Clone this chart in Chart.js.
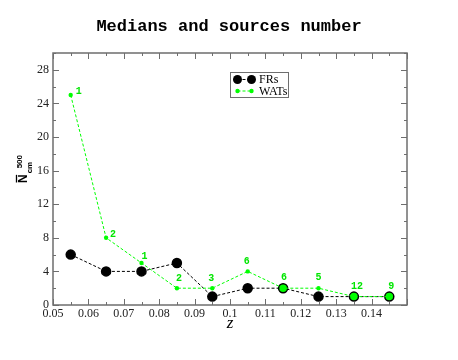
<!DOCTYPE html>
<html><head><meta charset="utf-8">
<script src="https://cdn.jsdelivr.net/npm/chart.js@4/dist/chart.umd.min.js"></script>
<style>html,body{margin:0;padding:0;background:#fff;}#wrap{width:458px;height:360px;position:relative;}</style>
</head><body><div id="wrap"><canvas id="c"></canvas></div>
<script>
// ---- data ----
const redshifts   = [0.055, 0.065, 0.075, 0.085, 0.095, 0.105, 0.115, 0.125, 0.135, 0.145];
const frMedians   = [6, 4, 4, 5, 1, 2, 2, 1, 1, 1];
const watMedians  = [25, 8, 5, 2, 2, 4, 2, 2, 1, 1];
const watCounts   = [1, 2, 1, 2, 3, 6, 6, 5, 12, 9];
const xTickValues = [0.05, 0.06, 0.07, 0.08, 0.09, 0.10, 0.11, 0.12, 0.13, 0.14, 0.15];
const xTickLabels = ['0.05','0.06','0.07','0.08','0.09','0.1','0.11','0.12','0.13','0.14',''];
const yTickValues = [0, 4, 8, 12, 16, 20, 24, 28];
const yTickLabels = ['0','4','8','12','16','20','24','28'];
const seriesNames = ['FRs', 'WATs'];

const GREEN = '#00ff00';
const GREEN_TXT = '#00e600';
const FRAME = '#6e6e6e';

const frData  = redshifts.map((z, i) => ({x: z, y: frMedians[i]}));
const watData = redshifts.map((z, i) => ({x: z, y: watMedians[i]}));
const frFill  = frMedians.map((v, i) => v === watMedians[i] ? GREEN : '#000');

// frame and inward ticks on all four sides
const framePlugin = {
  id: 'frame',
  beforeDatasetsDraw(chart) {
    const {ctx, chartArea: a, scales: {x, y}} = chart;
    ctx.save();
    ctx.strokeStyle = FRAME;
    ctx.lineWidth = 1.5;
    ctx.strokeRect(a.left, a.top, a.right - a.left, a.bottom - a.top);
    ctx.lineWidth = 1;
    const tick = (x1, y1, x2, y2) => { ctx.beginPath(); ctx.moveTo(x1, y1); ctx.lineTo(x2, y2); ctx.stroke(); };
    for (let v = 0.05; v <= 0.1501; v += 0.005) {
      const major = Math.abs(Math.round(v * 1000) % 10) === 0;
      const L = major ? 6 : 3;
      const px = Math.round(x.getPixelForValue(v)) + 0.5;
      tick(px, a.bottom, px, a.bottom - L);
      tick(px, a.top, px, a.top + L);
    }
    for (let v = 0; v <= 30; v += 2) {
      const L = (v % 4 === 0) ? 6 : 3;
      const py = Math.round(y.getPixelForValue(v)) + 0.5;
      tick(a.left, py, a.left + L, py);
      tick(a.right, py, a.right - L, py);
    }
    ctx.restore();
  }
};

// count labels above the WAT points
const countPlugin = {
  id: 'counts',
  afterDatasetsDraw(chart, args, opts) {
    const {ctx} = chart;
    const meta = chart.getDatasetMeta(1);
    ctx.save();
    ctx.fillStyle = GREEN_TXT;
    ctx.font = 'bold 10px "Liberation Mono", monospace';
    ctx.textAlign = 'center';
    ctx.textBaseline = 'middle';
    meta.data.forEach((pt, i) => {
      const o = opts.offsets[i];
      ctx.fillText(String(watCounts[i]), pt.x + o[0], pt.y + o[1]);
    });
    ctx.restore();
  }
};

// boxed legend inside the plot
const legendPlugin = {
  id: 'boxLegend',
  afterDatasetsDraw(chart, args, opts) {
    const {ctx} = chart;
    const b = opts.box;
    ctx.save();
    ctx.fillStyle = '#fff';
    ctx.fillRect(b.x, b.y, b.w, b.h);
    ctx.strokeStyle = FRAME;
    ctx.lineWidth = 1;
    ctx.strokeRect(b.x + 0.5, b.y + 0.5, b.w, b.h);
    chart.data.datasets.forEach((ds, i) => {
      const yy = b.y + 7.5 + i * 11.5;
      const x1 = b.x + 7.5, x2 = b.x + 21.5;
      ctx.strokeStyle = ds.borderColor;
      ctx.lineWidth = 1;
      ctx.setLineDash(ds.borderDash);
      ctx.beginPath(); ctx.moveTo(x1, yy); ctx.lineTo(x2, yy); ctx.stroke();
      ctx.setLineDash([]);
      [x1, x2].forEach(px => {
        ctx.beginPath();
        ctx.arc(px, yy, ds.pointRadius, 0, Math.PI * 2);
        ctx.fillStyle = i === 0 ? '#000' : ds.pointBackgroundColor;
        ctx.fill();
      });
      ctx.fillStyle = '#000';
      ctx.font = '12px "Liberation Serif", serif';
      ctx.textAlign = 'left';
      ctx.textBaseline = 'middle';
      ctx.fillText(ds.label, b.x + 29, yy + 0.5);
    });
    ctx.restore();
  }
};

// y axis label: N with overbar, superscript 500, subscript cm
const yLabelPlugin = {
  id: 'yLabel',
  afterDraw(chart) {
    const {ctx} = chart;
    ctx.save();
    ctx.translate(27, 183);
    ctx.rotate(-Math.PI / 2);
    ctx.fillStyle = '#000';
    ctx.textBaseline = 'alphabetic';
    ctx.textAlign = 'left';
    ctx.font = 'bold 12px "Liberation Sans", Arial, sans-serif';
    ctx.fillText('N', 0, 0);
    const w = ctx.measureText('N').width;
    ctx.strokeStyle = '#000';
    ctx.lineWidth = 1.3;
    ctx.beginPath(); ctx.moveTo(0.5, -10.5); ctx.lineTo(w - 0.5, -10.5); ctx.stroke();
    ctx.font = 'bold 8px "Liberation Sans", Arial, sans-serif';
    ctx.fillText('cm', w + 1, 5);
    ctx.fillText('500', w + 6, -5.5);
    ctx.restore();
  }
};

new Chart(document.getElementById('c'), {
  type: 'scatter',
  data: {
    datasets: [
      {
        label: seriesNames[0], data: frData, showLine: true, order: 2,
        borderColor: '#000', borderWidth: 1, borderDash: [3, 2],
        pointRadius: 4.5, pointHoverRadius: 4.5,
        pointBackgroundColor: frFill, pointBorderColor: '#000', pointBorderWidth: 1.5
      },
      {
        label: seriesNames[1], data: watData, showLine: true, order: 1,
        borderColor: GREEN, borderWidth: 1, borderDash: [3, 2],
        pointRadius: 2.2, pointHoverRadius: 2.2,
        pointBackgroundColor: GREEN, pointBorderColor: GREEN, pointBorderWidth: 0
      }
    ]
  },
  options: {
    responsive: true, maintainAspectRatio: false, animation: false,
    events: [],
    layout: {padding: {left: 0, right: 0, top: 0, bottom: 0}},
    plugins: {
      legend: {display: false},
      tooltip: {enabled: false},
      title: {
        display: true, text: 'Medians and sources number', color: '#000',
        font: {family: '"Liberation Mono", "Courier New", monospace', size: 17, weight: 'bold', lineHeight: 1.2},
        padding: {top: 17, bottom: 15.6}
      },
      counts: {offsets: [[8, -4], [7, -3], [3, -7], [2, -10], [-1, -10], [-1, -10], [1, -11], [0, -11], [3, -10], [2, -10]]},
      boxLegend: {box: {x: 230, y: 72, w: 58, h: 25}}
    },
    scales: {
      x: {
        type: 'linear', min: 0.05, max: 0.15,
        grid: {display: false, drawTicks: false, tickLength: 0}, border: {display: false},
        afterBuildTicks: s => { s.ticks = xTickValues.map(v => ({value: v})); },
        afterFit: s => { s.height = 55; },
        ticks: {
          autoSkip: false, maxRotation: 0, padding: 2, color: '#222',
          font: {family: '"Liberation Serif", "Times New Roman", serif', size: 12},
          callback: (v, i) => xTickLabels[i]
        },
        title: {
          display: true, text: 'z', color: '#000',
          font: {family: '"Liberation Serif", "Times New Roman", serif', size: 17, style: 'italic', lineHeight: 1.2},
          padding: {top: 0, bottom: 26}
        }
      },
      y: {
        type: 'linear', min: 0, max: 30,
        grid: {display: false, drawTicks: false, tickLength: 0}, border: {display: false},
        afterBuildTicks: s => { s.ticks = yTickValues.map(v => ({value: v})); },
        afterFit: s => { s.width = 53; },
        ticks: {
          autoSkip: false, padding: 4, color: '#222',
          font: {family: '"Liberation Serif", "Times New Roman", serif', size: 12},
          callback: (v, i) => yTickLabels[i]
        }
      },
      y2: {
        type: 'linear', position: 'right', min: 0, max: 30, display: true,
        grid: {display: false, drawTicks: false}, border: {display: false},
        ticks: {display: false},
        afterFit: s => { s.width = 51; }
      }
    }
  },
  plugins: [framePlugin, countPlugin, legendPlugin, yLabelPlugin]
});
</script>
</body></html>
